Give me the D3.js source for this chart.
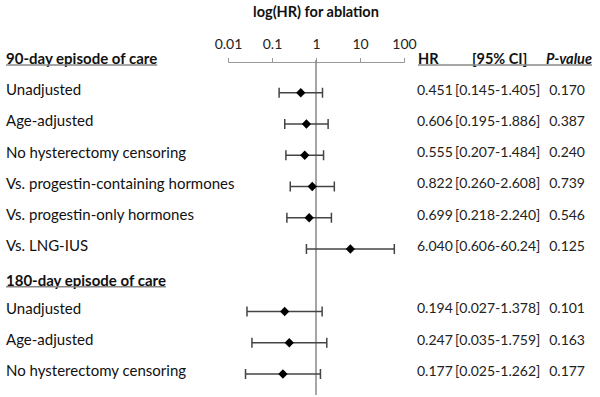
<!DOCTYPE html>
<html>
<head>
<meta charset="utf-8">
<script src="https://cdn.jsdelivr.net/npm/d3@7"></script>
<style>
	body { margin: 0; background: #fff; }
	svg { font-family: Lato, "Open Sans", sans-serif; }
</style>
</head>
<body>
<div id="wrapper"></div>
<script>
const groupTitles = ["90-day episode of care", "180-day episode of care"];
const groupSizes = [6, 3];
const labels = ["Unadjusted", "Age-adjusted", "No hysterectomy censoring", "Vs. progestin-containing hormones",
	"Vs. progestin-only hormones", "Vs. LNG-IUS", "Unadjusted", "Age-adjusted", "No hysterectomy censoring"];
const hr = [0.451, 0.606, 0.555, 0.822, 0.699, 6.040, 0.194, 0.247, 0.177];
const ciLow = [0.145, 0.195, 0.207, 0.260, 0.218, 0.606, 0.027, 0.035, 0.025];
const ciHigh = [1.405, 1.886, 1.484, 2.608, 2.240, 60.24, 1.378, 1.759, 1.262];
const pValues = [0.170, 0.387, 0.240, 0.739, 0.546, 0.125, 0.101, 0.163, 0.177];
const tickValues = [0.01, 0.1, 1, 10, 100];

function drawForest(){
	const dimensions = { width: 600, height: 397 };

	// build row list: a header row then its items
	const rows = [];
	let k = 0;
	groupTitles.forEach((g, gi) => {
		rows.push({ type: "header", label: g, shift: gi > 0 ? 3 : 0 });
		for (let i = 0; i < groupSizes[gi]; i++, k++) {
			rows.push({ type: "item", label: labels[k], hr: hr[k], lo: ciLow[k], hi: ciHigh[k], p: pValues[k], shift: 0 });
		}
	});

	const fmt = v => v >= 10 ? v.toFixed(2) : v.toFixed(3);

	const wrapper = d3.select("#wrapper").append("svg")
		.attr("width", dimensions.width)
		.attr("height", dimensions.height);

	const xScaler = d3.scaleLog().domain([0.01, 100]).range([228, 404]);
	const yScaler = d3.scalePoint().domain(d3.range(rows.length)).range([58.5, 371]);

	// title
	wrapper.append("text")
		.attr("x", xScaler(1))
		.attr("y", 12)
		.attr("dy", "0.35em")
		.attr("text-anchor", "middle")
		.attr("font-weight", "bold")
		.attr("font-size", "14.5px")
		.attr("fill", "#111")
		.text("log(HR) for ablation");

	// axis
	const axisGen = d3.axisTop(xScaler)
		.tickValues(tickValues)
		.tickFormat(d3.format("~g"))
		.tickSize(4)
		.tickSizeOuter(4)
		.tickPadding(9);
	const axis = wrapper.append("g")
		.attr("transform", "translate(0,62)")
		.call(axisGen);
	axis.select(".domain").attr("stroke", "#999");
	axis.selectAll(".tick line").attr("stroke", "#999");
	axis.selectAll(".tick text")
		.attr("font-family", "Lato, sans-serif")
		.attr("font-size", "14px")
		.attr("fill", "#222");

	// reference line at HR = 1
	wrapper.append("line")
		.attr("x1", xScaler(1)).attr("x2", xScaler(1))
		.attr("y1", 60).attr("y2", 395)
		.attr("stroke", "#888")
		.attr("stroke-width", 1.5);

	const rowGroups = wrapper.selectAll("g.row")
		.data(rows)
		.enter()
		.append("g")
		.attr("class", "row")
		.attr("transform", (d, i) => `translate(0,${yScaler(i) + d.shift})`);

	// left labels
	rowGroups.append("text")
		.attr("x", 6)
		.attr("dy", "0.35em")
		.attr("font-size", "15px")
		.attr("font-weight", d => d.type === "header" ? "bold" : "normal")
		.attr("fill", "#111")
		.text(d => d.label);

	rowGroups.filter(d => d.type === "header")
		.append("line")
		.attr("x1", 6)
		.attr("x2", function(){ return 6 + this.parentNode.querySelector("text").getComputedTextLength(); })
		.attr("y1", 6.5).attr("y2", 6.5)
		.attr("stroke", "#888")
		.attr("stroke-width", 1.5);

	// column header on first row
	const head = wrapper.append("g").attr("transform", `translate(0,${yScaler(0)})`);
	head.append("text").attr("x", 418).attr("dy", "0.35em").attr("font-size", "14.5px")
		.attr("font-weight", "bold").attr("fill", "#111").text("HR");
	head.append("text").attr("x", 472).attr("dy", "0.35em").attr("font-size", "14.5px")
		.attr("font-weight", "bold").attr("fill", "#111").text("[95% CI]");
	head.append("text").attr("x", 592).attr("dy", "0.35em").attr("font-size", "14.5px")
		.attr("text-anchor", "end")
		.attr("font-weight", "bold").attr("font-style", "italic").attr("fill", "#111").text("P-value");
	head.append("line").attr("x1", 418).attr("x2", 592).attr("y1", 6.5).attr("y2", 6.5)
		.attr("stroke", "#888").attr("stroke-width", 1.5);

	const items = rowGroups.filter(d => d.type === "item");

	// confidence intervals
	const mk = items.append("g").attr("transform", "translate(0,3)");
	mk.append("line")
		.attr("x1", d => xScaler(d.lo)).attr("x2", d => xScaler(d.hi))
		.attr("stroke", "#444").attr("stroke-width", 1.5);
	mk.append("line")
		.attr("x1", d => xScaler(d.lo)).attr("x2", d => xScaler(d.lo))
		.attr("y1", -5).attr("y2", 5)
		.attr("stroke", "#444").attr("stroke-width", 1.5);
	mk.append("line")
		.attr("x1", d => xScaler(d.hi)).attr("x2", d => xScaler(d.hi))
		.attr("y1", -5).attr("y2", 5)
		.attr("stroke", "#444").attr("stroke-width", 1.5);
	mk.append("path")
		.attr("d", d3.symbol(d3.symbolDiamond2, 55))
		.attr("transform", d => `translate(${xScaler(d.hr)},0)`)
		.attr("fill", "#000");

	// value columns
	items.append("text").attr("x", 417).attr("dy", "0.35em").attr("font-size", "14px")
		.attr("fill", "#222").text(d => fmt(d.hr));
	items.append("text").attr("x", 455).attr("dy", "0.35em").attr("font-size", "14px")
		.attr("fill", "#222").text(d => `[${fmt(d.lo)}-${fmt(d.hi)}]`);
	items.append("text").attr("x", 585).attr("text-anchor", "end").attr("dy", "0.35em").attr("font-size", "14px")
		.attr("fill", "#222").text(d => d.p.toFixed(3));
}

drawForest();
</script>
</body>
</html>
